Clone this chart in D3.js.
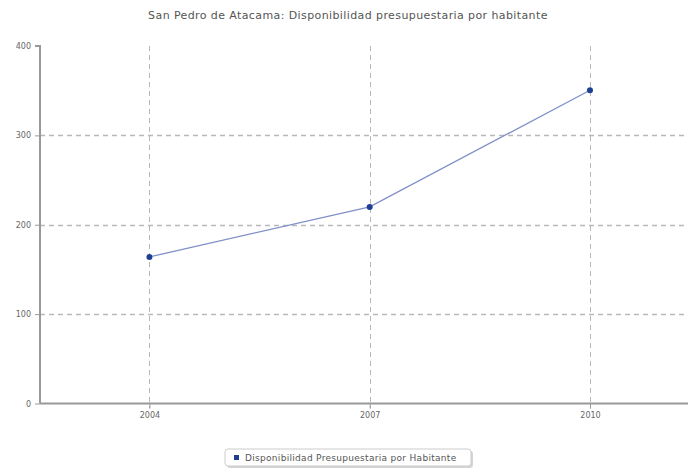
<!DOCTYPE html>
<html><head><meta charset="utf-8">
<script src="https://cdn.jsdelivr.net/npm/d3@7"></script>
<style>body{margin:0;background:#fff;} text{font-family:"DejaVu Sans",sans-serif;}</style>
</head><body><svg id="c" width="688" height="470"></svg>
<script>
const title = "San Pedro de Atacama: Disponibilidad presupuestaria por habitante";
const seriesName = "Disponibilidad Presupuestaria por Habitante";
const years = [2004, 2007, 2010];
const values = [164, 220, 350.5];
const yTicks = [0, 100, 200, 300, 400];

(function () {
const svg = d3.select("#c");
const mLeft = 40, mRight = 688, mTop = 46, mBottom = 403.5;
const x = d3.scaleLinear().domain([2002.51, 2011.335]).range([mLeft, mRight]);
const y = d3.scaleLinear().domain([0, 400]).range([mBottom, mTop]);

svg.append("text").attr("x", 348).attr("y", 19).attr("text-anchor", "middle")
  .attr("font-size", 11).attr("letter-spacing", 0.4).attr("fill", "#555").text(title);

// grid
const g = svg.append("g");
g.selectAll(".hg").data(yTicks.filter(d => d > 0 && d < 400)).enter().append("line")
  .attr("x1", mLeft).attr("x2", mRight).attr("y1", d => Math.round(y(d)) + 0.5).attr("y2", d => Math.round(y(d)) + 0.5)
  .attr("stroke", "#b8b8b8").attr("stroke-width", 1.3).attr("stroke-dasharray", "5,4");
g.selectAll(".vg").data(years).enter().append("line")
  .attr("x1", d => Math.round(x(d)) + 0.5).attr("x2", d => Math.round(x(d)) + 0.5).attr("y1", mTop).attr("y2", mBottom + 5)
  .attr("stroke", "#b8b8b8").attr("stroke-width", 1).attr("stroke-dasharray", "5,4");

// axes
const yAxis = d3.axisLeft(y).tickValues(yTicks).tickSize(5).tickPadding(4).tickFormat(d3.format("d"));
const ya = svg.append("g").attr("transform", `translate(${mLeft},0)`).call(yAxis);
const xAxis = d3.axisBottom(x).tickValues(years).tickSize(5).tickPadding(4).tickFormat(d3.format("d"));
const xa = svg.append("g").attr("transform", `translate(0,${mBottom})`).call(xAxis);
[ya, xa].forEach(a => {
  a.select(".domain").attr("stroke", "#999").attr("stroke-width", 2);
  a.selectAll(".tick line").attr("stroke", "#999");
  a.selectAll(".tick text").attr("fill", "#666").attr("font-size", 8).style("font-family", "DejaVu Sans");
});
xa.select(".domain").attr("d", `M${mLeft},0H${mRight}`);
ya.select(".domain").attr("d", `M-5,${mTop}H0V${mBottom}`);

// line
const pts = years.map((yr, i) => [yr, values[i]]);
svg.append("path").datum(pts)
  .attr("d", d3.line().x(d => x(d[0])).y(d => y(d[1])))
  .attr("fill", "none").attr("stroke", "#8090c8").attr("stroke-width", 1.3);
svg.selectAll(".pt").data(pts).enter().append("circle")
  .attr("cx", d => x(d[0])).attr("cy", d => y(d[1])).attr("r", 3).attr("fill", "#1c3f94");

// legend
const lg = svg.append("g");
lg.append("rect").attr("x", 227).attr("y", 451).attr("width", 246).attr("height", 17).attr("rx", 3)
  .attr("fill", "#888").attr("opacity", 0.35);
lg.append("rect").attr("x", 225).attr("y", 449).attr("width", 246).attr("height", 17).attr("rx", 3)
  .attr("fill", "#fff").attr("stroke", "#ccc");
lg.append("rect").attr("x", 234).attr("y", 455).attr("width", 5).attr("height", 5).attr("fill", "#1c3f94");
lg.append("text").attr("x", 245).attr("y", 461).attr("font-size", 9).attr("letter-spacing", 0.3).attr("fill", "#555").text(seriesName);
})();
</script></body></html>
